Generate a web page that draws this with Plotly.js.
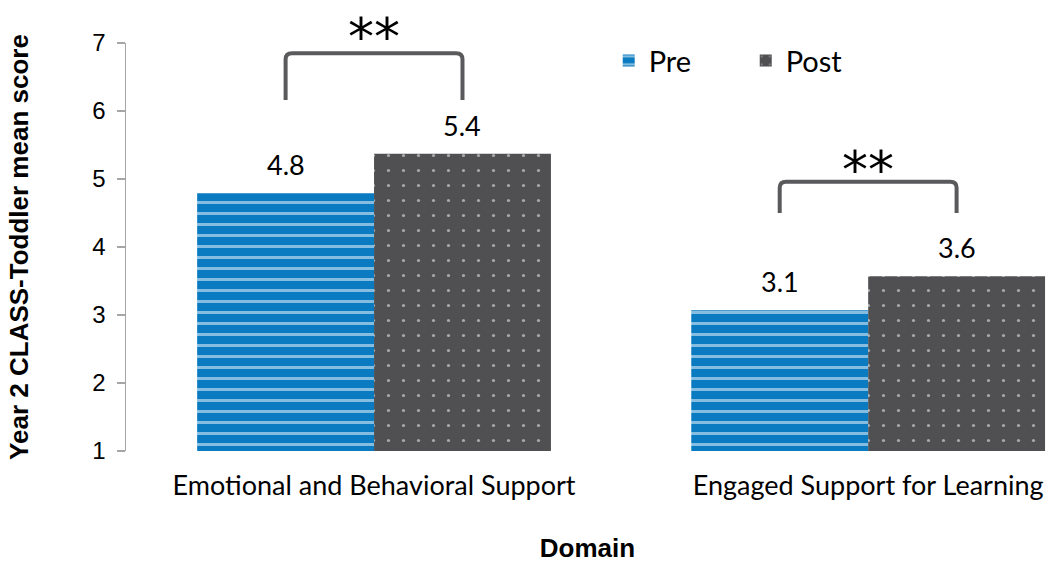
<!DOCTYPE html>
<html>
<head>
<meta charset="utf-8">
<script src="https://cdn.plot.ly/plotly-3.0.1.min.js"></script>
<style>html,body{margin:0;padding:0;background:#fff;}#chart{width:1049px;height:563px;}</style>
</head>
<body>
<div id="chart"></div>
<script>
var categories = ["Emotional and Behavioral Support", "Engaged Support for Learning"];
var preValues = [4.79, 3.07];
var postValues = [5.37, 3.57];
var seriesNames = ["Pre", "Post"];
var yTicks = [1, 2, 3, 4, 5, 6, 7];
var sigLabels = ["**", "**"];

var xPos = categories.map(function (c, i) { return i; });
var BAR_GAP = 0.284;
var half = (1 - BAR_GAP) / 4; // centre offset of each bar within a group
var Y_MIN = 1, Y_MAX = 7;

var labelFont = {family: "Lato, 'Open Sans', sans-serif", size: 27, color: "#000"};

var tracePre = {
  type: "bar", name: seriesNames[0], x: xPos, y: preValues,
  marker: {color: "#0a7bc1", line: {width: 0},
    pattern: {shape: "-", fgcolor: "#ffffff", bgcolor: "#0a7bc1", size: 11, solidity: 0.27, fillmode: "overlay"}},
  hoverinfo: "skip"
};
var tracePost = {
  type: "bar", name: seriesNames[1], x: xPos, y: postValues,
  marker: {color: "#505053", line: {width: 0},
    pattern: {shape: ".", fgcolor: "#ffffff", bgcolor: "#505053", size: 15, solidity: 0.036, fillmode: "overlay"}},
  hoverinfo: "skip"
};

var shapes = [], annotations = [];

// value labels above each bar
[preValues, postValues].forEach(function (vals, s) {
  vals.forEach(function (v, i) {
    annotations.push({xref: "x", yref: "y", x: xPos[i] + (s === 0 ? -half : half), y: v,
      text: v.toFixed(1), showarrow: false, yanchor: "bottom", yshift: 10, font: labelFont});
  });
});

// significance brackets (levels above the taller bar of each group)
var legLift = [0.79, 0.93];
var topLift = [1.48, 1.39];
var starLift = [1.87, 1.71];
xPos.forEach(function (x, i) {
  var mx = Math.max(preValues[i], postValues[i]);
  var x0 = x - half, x1 = x + half;
  var yb = mx + legLift[i], yt = mx + topLift[i];
  var rx = 0.013, ry = 0.09;
  var path = "M " + x0 + "," + yb + " L " + x0 + "," + (yt - ry) +
    " Q " + x0 + "," + yt + " " + (x0 + rx) + "," + yt +
    " L " + (x1 - rx) + "," + yt +
    " Q " + x1 + "," + yt + " " + x1 + "," + (yt - ry) +
    " L " + x1 + "," + yb;
  shapes.push({type: "path", xref: "x", yref: "y", path: path,
    line: {color: "#5a5a5c", width: 4}});
  annotations.push({xref: "x", yref: "paper", x: x, y: (mx + starLift[i] - Y_MIN) / (Y_MAX - Y_MIN),
    text: sigLabels[i], showarrow: false, yanchor: "middle", yshift: -10,
    font: {family: "'DejaVu Sans', sans-serif", size: 52, color: "#000"}});
});

var layout = {
  width: 1049, height: 563,
  margin: {l: 126, r: 0, t: 43, b: 112},
  paper_bgcolor: "#fff", plot_bgcolor: "#fff",
  barmode: "group", bargap: BAR_GAP, bargroupgap: 0,
  showlegend: true,
  legend: {orientation: "h", x: 0.523, y: 0.957, xanchor: "left", yanchor: "middle",
    font: {family: "Lato, sans-serif", size: 29, color: "#000"},
    entrywidth: 92, entrywidthmode: "pixels", itemwidth: 30, bgcolor: "rgba(0,0,0,0)"},
  xaxis: {
    range: [-0.502, 1.366], tickvals: xPos, ticktext: categories,
    showline: false, showgrid: false, zeroline: false, ticks: "",
    ticklabelstandoff: 16,
    tickfont: {family: "Lato, sans-serif", size: 27, color: "#000"},
    title: {text: "<b>Domain</b>", standoff: 50,
      font: {family: "'Liberation Sans', Arial, sans-serif", size: 26, color: "#000"}}
  },
  yaxis: {
    range: [Y_MIN, Y_MAX], tickvals: yTicks, showgrid: false, zeroline: false,
    showline: true, linecolor: "#a6a6a6", linewidth: 1.5,
    ticks: "outside", ticklen: 8, tickcolor: "#a6a6a6", tickwidth: 1.5,
    ticklabelstandoff: 6,
    tickfont: {family: "'Liberation Sans', Arial, sans-serif", size: 24, color: "#000"},
    title: {text: "<b>Year 2 CLASS-Toddler mean score</b>", standoff: 56,
      font: {family: "'Liberation Sans', Arial, sans-serif", size: 26, color: "#000"}}
  },
  shapes: shapes,
  annotations: annotations
};

Plotly.newPlot("chart", [tracePre, tracePost], layout, {displayModeBar: false, staticPlot: true});
</script>
</body>
</html>
